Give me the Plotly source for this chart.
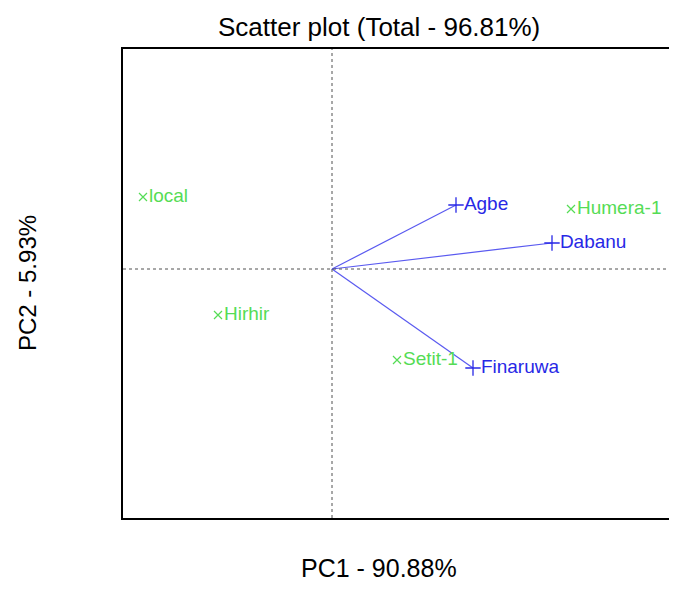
import plotly.graph_objects as go

# Genotype scores (PC1, PC2)
genotypes = ["local", "Hirhir", "Humera-1", "Setit-1"]
geno_pc1 = [-3.78, -2.28, 4.78, 1.30]
geno_pc2 = [1.44, -0.92, 1.20, -1.82]

# Variable (environment) vectors (PC1, PC2)
variables = ["Agbe", "Dabanu", "Finaruwa"]
var_pc1 = [2.48, 4.40, 2.82]
var_pc2 = [1.28, 0.52, -1.98]

GREEN = "rgb(85,220,85)"
BLUE = "rgb(40,40,230)"
LINE_BLUE = "rgb(90,90,240)"
FONT = "Liberation Sans, Arial, sans-serif"

# The page body adds an 8px offset; figure pixel geometry compensates for it
OFF = 8
W, H = 677 - OFF, 592 - 2 * OFF
L, T = 123 - OFF, 49 - OFF
B = H - (518 - OFF)

fig = go.Figure()

# Vectors from origin
for vx, vy in zip(var_pc1, var_pc2):
    fig.add_trace(go.Scatter(x=[0, vx], y=[0, vy], mode="lines",
                             line=dict(color=LINE_BLUE, width=1.2),
                             hoverinfo="skip", showlegend=False))

fig.add_trace(go.Scatter(x=var_pc1, y=var_pc2, mode="markers+text", text=variables,
                         textposition="middle right",
                         marker=dict(symbol="cross-thin", size=11,
                                     line=dict(color=BLUE, width=1.3)),
                         textfont=dict(color=BLUE, size=19, family=FONT),
                         showlegend=False))

fig.add_trace(go.Scatter(x=geno_pc1, y=geno_pc2, mode="markers+text", text=genotypes,
                         textposition="middle right",
                         marker=dict(symbol="x-thin", size=8,
                                     line=dict(color=GREEN, width=1.2)),
                         textfont=dict(color=GREEN, size=19, family=FONT),
                         showlegend=False))

# Dotted crosshair through origin
fig.add_hline(y=0, line=dict(color="rgb(80,80,80)", width=1, dash="dot"))
fig.add_vline(x=0, line=dict(color="rgb(80,80,80)", width=1, dash="dot"))

pw = W - L
ph = H - T - B


def px(xp, yp):
    return (xp - OFF - L) / pw, (H - B - (yp - OFF)) / ph


tx, ty = px(379, 27)
xx, _ = px(379, 575)
xy = -(B - 1) / ph          # box bottom just inside the figure's bottom edge
yx, yy = px(27, 283)

fig.update_layout(
    width=W, height=H,
    margin=dict(l=L, r=0, t=T, b=B),
    plot_bgcolor="white", paper_bgcolor="white",
    font=dict(family=FONT),
    xaxis=dict(range=[-4.18, 6.9], showgrid=False, zeroline=False,
               showticklabels=False, ticks="", showline=True,
               linecolor="black", linewidth=2, mirror=True),
    yaxis=dict(range=[-4.98, 4.4], showgrid=False, zeroline=False,
               showticklabels=False, ticks="", showline=True,
               linecolor="black", linewidth=2, mirror=False),
    annotations=[
        dict(text="Scatter plot (Total - 96.81%)", x=tx, y=ty, xref="paper", yref="paper",
             xanchor="center", yanchor="middle", showarrow=False,
             font=dict(size=26, color="black", family=FONT)),
        dict(text="PC1 - 90.88%", x=xx, y=xy, xref="paper", yref="paper",
             xanchor="center", yanchor="bottom", showarrow=False, borderpad=0,
             font=dict(size=25, color="black", family=FONT)),
        dict(text="PC2 - 5.93%", x=yx, y=yy, xref="paper", yref="paper",
             xanchor="center", yanchor="middle", showarrow=False, textangle=-90,
             font=dict(size=24, color="black", family=FONT)),
    ],
)

fig.write_html("out.html")
